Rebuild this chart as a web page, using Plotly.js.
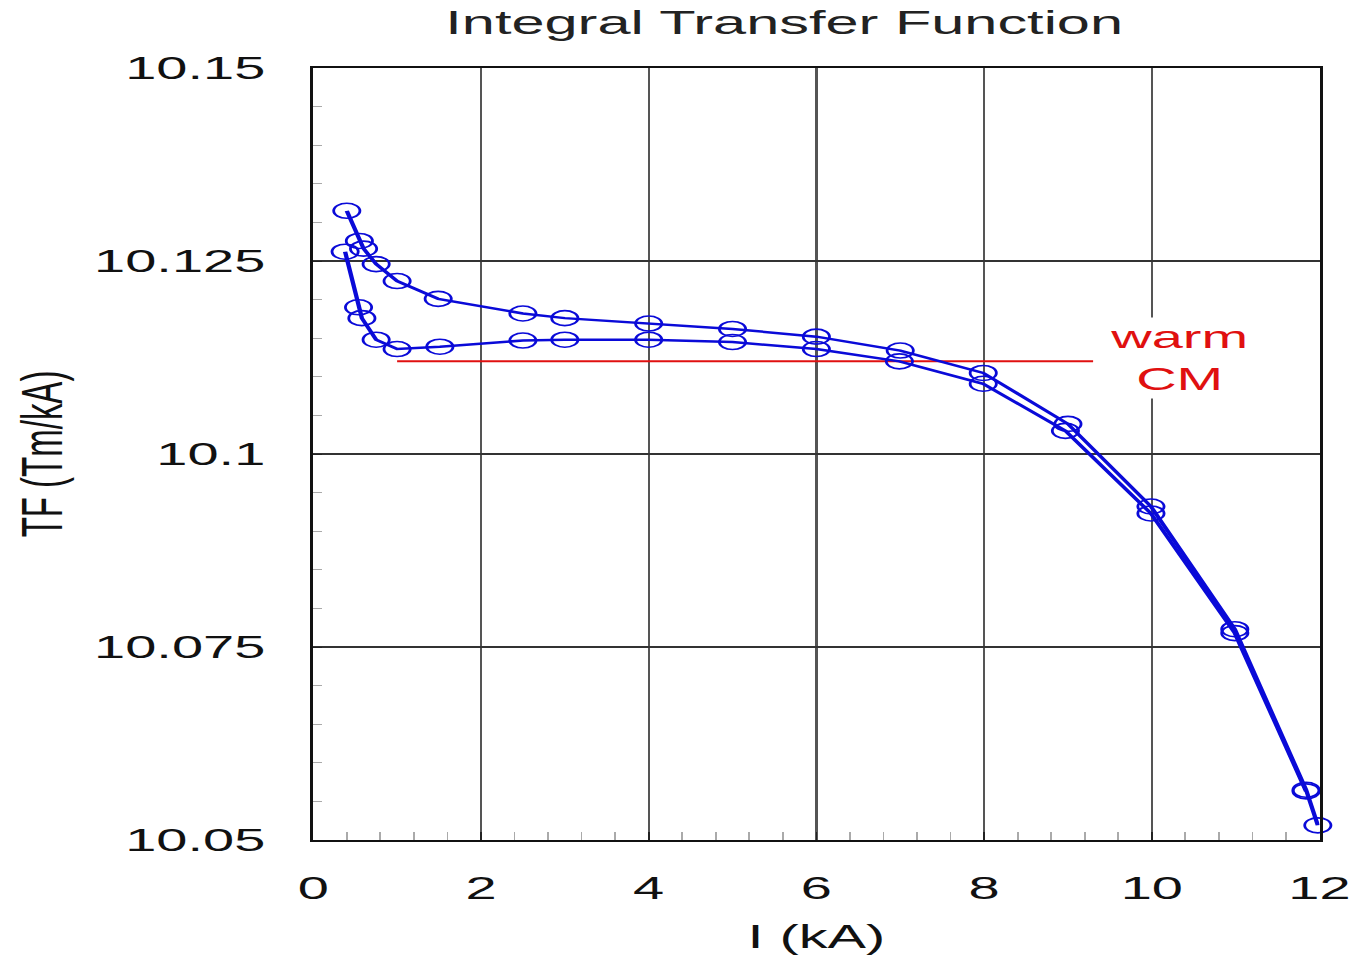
<!DOCTYPE html>
<html>
<head>
<meta charset="utf-8">
<script src="https://cdn.plot.ly/plotly-3.0.1.min.js"></script>
<style>
  html, body { margin: 0; padding: 0; background: #fff; overflow: hidden; }
  #wrap { width: 1358px; height: 960px; overflow: hidden; }
  #chart { width: 776px; height: 960px; transform: scaleX(1.75); transform-origin: 0 0; }
</style>
</head>
<body>
<div id="wrap"><div id="chart"></div></div>
<script>
// ---- data ----
const upperI  = [0.40, 0.55, 0.60, 0.75, 1.00, 1.49, 2.50, 3.00, 4.00, 5.00, 6.00, 7.00, 7.99, 9.00, 9.99, 10.99, 11.84, 11.98];
const upperTF = [10.1315, 10.1276, 10.1266, 10.1246, 10.1224, 10.1201, 10.1182, 10.1176, 10.1169, 10.1162, 10.1152, 10.1134, 10.1105, 10.1039, 10.0932, 10.0773, 10.0565, 10.0519];

const lowerI  = [0.38, 0.54, 0.58, 0.75, 1.00, 1.51, 2.50, 3.00, 4.00, 5.00, 6.00, 6.99, 7.99, 8.97, 9.99, 10.99, 11.84];
const lowerTF = [10.1262, 10.1190, 10.1176, 10.1148, 10.1136, 10.1139, 10.1147, 10.1148, 10.1148, 10.1145, 10.1136, 10.1120, 10.1091, 10.1030, 10.0923, 10.0768, 10.0563];

const warmCMI  = [1.0, 9.3];
const warmCMTF = [10.112, 10.112];

const yTickVals = [10.05, 10.075, 10.1, 10.125, 10.15];
const yTickText = ["10.05", "10.075", "10.1", "10.125", "10.15"];
const xTickVals = [0, 2, 4, 6, 8, 10, 12];
const xTickText = ["0", "2", "4", "6", "8", "10", "12"];

const chartTitle = "Integral Transfer Function";
const xTitle = "I (kA)";
const yTitle = "TF (Tm/kA)";
const annText = "warm<br>CM";

// ---- styling ----
const FONT = "Liberation Sans, Arial, Helvetica, sans-serif";
const BLUE = "#0a0ad8";
const RED = "#e01010";

const mk = (x, y) => ({
  x: x, y: y, type: "scatter", mode: "lines+markers", cliponaxis: false,
  line: { color: BLUE, width: 2.5 },
  marker: { symbol: "circle-open", size: 15, color: BLUE, line: { color: BLUE, width: 1.6 } },
  hoverinfo: "skip", showlegend: false
});

const traces = [
  { x: warmCMI, y: warmCMTF, type: "scatter", mode: "lines",
    line: { color: RED, width: 2 }, hoverinfo: "skip", showlegend: false },
  mk(upperI, upperTF),
  mk(lowerI, lowerTF)
];

const layout = {
  width: 776, height: 960,
  margin: { l: 179, r: 22, t: 68, b: 120 },
  paper_bgcolor: "#ffffff", plot_bgcolor: "#ffffff",
  font: { family: FONT, color: "#111" },
  title: { text: chartTitle, font: { family: FONT, size: 34, color: "#222" },
           x: 0.468, xref: "paper", xanchor: "center", y: 0.977, yref: "container", yanchor: "middle" },
  xaxis: {
    range: [0, 12], tickvals: xTickVals, ticktext: xTickText,
    tickfont: { family: FONT, size: 32, color: "#111" },
    ticks: "inside", ticklen: 8, tickcolor: "#222", tickwidth: 1,
    ticklabelstandoff: 19,
    showgrid: true, gridcolor: "#555", gridwidth: 1.3,
    showline: true, linecolor: "#111", linewidth: 2, mirror: true,
    zeroline: false,
    minor: { dtick: 0.4, ticks: "inside", ticklen: 8, tickcolor: "#aaa", tickwidth: 1, showgrid: false },
    title: { text: xTitle, font: { family: FONT, size: 33, color: "#111" }, standoff: 20 }
  },
  yaxis: {
    range: [10.05, 10.15], tickvals: yTickVals, ticktext: yTickText,
    tickfont: { family: FONT, size: 32, color: "#111" },
    ticks: "inside", ticklen: 5, tickcolor: "#222", tickwidth: 1,
    ticklabelstandoff: 19,
    showgrid: true, gridcolor: "#333", gridwidth: 1.3,
    showline: true, linecolor: "#111", linewidth: 2, mirror: true,
    zeroline: false,
    minor: { dtick: 0.005, ticks: "inside", ticklen: 5, tickcolor: "#aaa", tickwidth: 1, showgrid: false },
    title: { text: yTitle, font: { family: FONT, size: 33, color: "#111" }, standoff: 8 }
  },
  annotations: [{
    x: 10.31, y: 10.1125, xref: "x", yref: "y", text: annText, showarrow: false,
    font: { family: FONT, size: 32, color: RED }, bgcolor: "#ffffff",
    xanchor: "center", yanchor: "middle", align: "center"
  }]
};

Plotly.newPlot("chart", traces, layout, { staticPlot: true, displayModeBar: false });
</script>
</body>
</html>
